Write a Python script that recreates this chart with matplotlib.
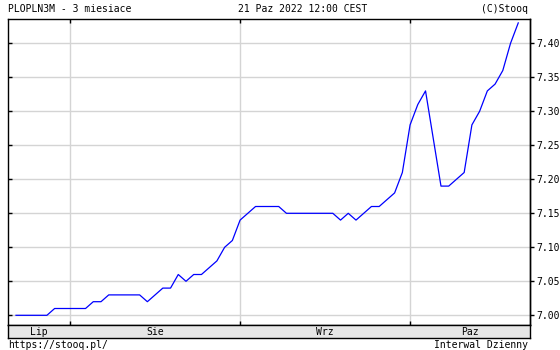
import matplotlib
matplotlib.use("Agg")
import matplotlib.pyplot as plt
import pandas as pd
import numpy as np

# --- data ---
dates = pd.bdate_range("2022-07-21", "2022-10-21")
dates = dates[dates != pd.Timestamp("2022-08-15")]  # holiday, no fixing
values = [7.00, 7.00, 7.00, 7.00, 7.00, 7.01, 7.01, 7.01, 7.01, 7.01,
          7.02, 7.02, 7.03, 7.03, 7.03, 7.03, 7.03, 7.02, 7.03, 7.04,
          7.04, 7.06, 7.05, 7.06, 7.06, 7.07, 7.08, 7.10, 7.11, 7.14,
          7.15, 7.16, 7.16, 7.16, 7.16, 7.15, 7.15, 7.15, 7.15, 7.15,
          7.15, 7.15, 7.14, 7.15, 7.14, 7.15, 7.16, 7.16, 7.17, 7.18,
          7.21, 7.28, 7.31, 7.33, 7.26, 7.19, 7.19, 7.20, 7.21, 7.28,
          7.30, 7.33, 7.34, 7.36, 7.40, 7.43]
month_labels = ["Lip", "Sie", "Wrz", "Paz"]
y_ticks = [7.00, 7.05, 7.10, 7.15, 7.20, 7.25, 7.30, 7.35, 7.40]
title_left = "PLOPLN3M - 3 miesiace"
title_mid = "21 Paz 2022 12:00 CEST"
title_right = "(C)Stooq"
foot_left = "https://stooq.pl/"
foot_right = "Interwal Dzienny"

W, H = 560, 350
FONT = "DejaVu Sans Mono"
FS = 7

x = np.arange(len(values))
months = dates.month
bounds = [i for i in range(1, len(dates)) if months[i] != months[i - 1]]

fig = plt.figure(figsize=(W / 100, H / 100), dpi=100)
fig.patch.set_facecolor("white")

def fx(px):
    return px / W

def fy(py):
    return 1 - py / H

L, R, T, B = 8, 530, 19, 325
ax = fig.add_axes([fx(L), fy(B), fx(R - L), (B - T) / H])
step = 7.727
x0 = (L - 16) / step
x1 = (R - 16) / step
ax.set_xlim(x0, x1)
y_per_px = 0.1 / 68
ax.set_ylim(7.00 - (B - 315.3) * y_per_px, 7.00 + (315.3 - T) * y_per_px)

for yv in y_ticks:
    ax.axhline(yv, color="#d4d4d4", lw=1.0, zorder=1)
for b in bounds:
    ax.axvline(b, color="#d4d4d4", lw=1.0, zorder=1)

ax.plot(x, values, color="#0000ff", lw=0.9, zorder=3, antialiased=True)

for s in ["left", "right", "top", "bottom"]:
    ax.spines[s].set_color("black")
    ax.spines[s].set_linewidth(1.0)

ax.set_xticks(bounds)
ax.set_yticks(y_ticks)
ax.tick_params(axis="x", direction="in", length=3, width=1, top=True, bottom=True,
               labelbottom=False, labeltop=False)
ax.tick_params(axis="y", direction="in", length=3, width=1, left=True, right=False,
               labelleft=False)

ax2 = ax.twinx()
ax2.set_ylim(ax.get_ylim())
ax2.set_yticks(y_ticks)
ax2.set_yticklabels([f"{v:.2f}" for v in y_ticks], fontfamily=FONT, fontsize=FS)
ax2.tick_params(axis="y", direction="out", length=3, width=1, pad=1.5, colors="black")
for s in ["left", "top", "bottom"]:
    ax2.spines[s].set_visible(False)
ax2.spines["right"].set_linewidth(1.0)

# month strip
axm = fig.add_axes([fx(L), fy(338), fx(R - L), (338 - B) / H])
axm.set_facecolor("#e6e6e6")
axm.set_xlim(x0, x1)
axm.set_ylim(0, 1)
axm.set_xticks([])
axm.set_yticks([])
for s in axm.spines.values():
    s.set_linewidth(1.0)
    s.set_color("black")
edges = [x0] + bounds + [x1]
for i, lab in enumerate(month_labels):
    axm.text((edges[i] + edges[i + 1]) / 2, 0.45, lab, ha="center", va="center",
             fontfamily=FONT, fontsize=FS)

fig.text(fx(8), fy(9.5), title_left, ha="left", va="center", fontfamily=FONT, fontsize=FS)
fig.text(fx(303), fy(9.5), title_mid, ha="center", va="center", fontfamily=FONT, fontsize=FS)
fig.text(fx(528), fy(9.5), title_right, ha="right", va="center", fontfamily=FONT, fontsize=FS)
fig.text(fx(8), fy(344.5), foot_left, ha="left", va="center", fontfamily=FONT, fontsize=FS)
fig.text(fx(528), fy(344.5), foot_right, ha="right", va="center", fontfamily=FONT, fontsize=FS)

fig.savefig("out.png", dpi=100)
